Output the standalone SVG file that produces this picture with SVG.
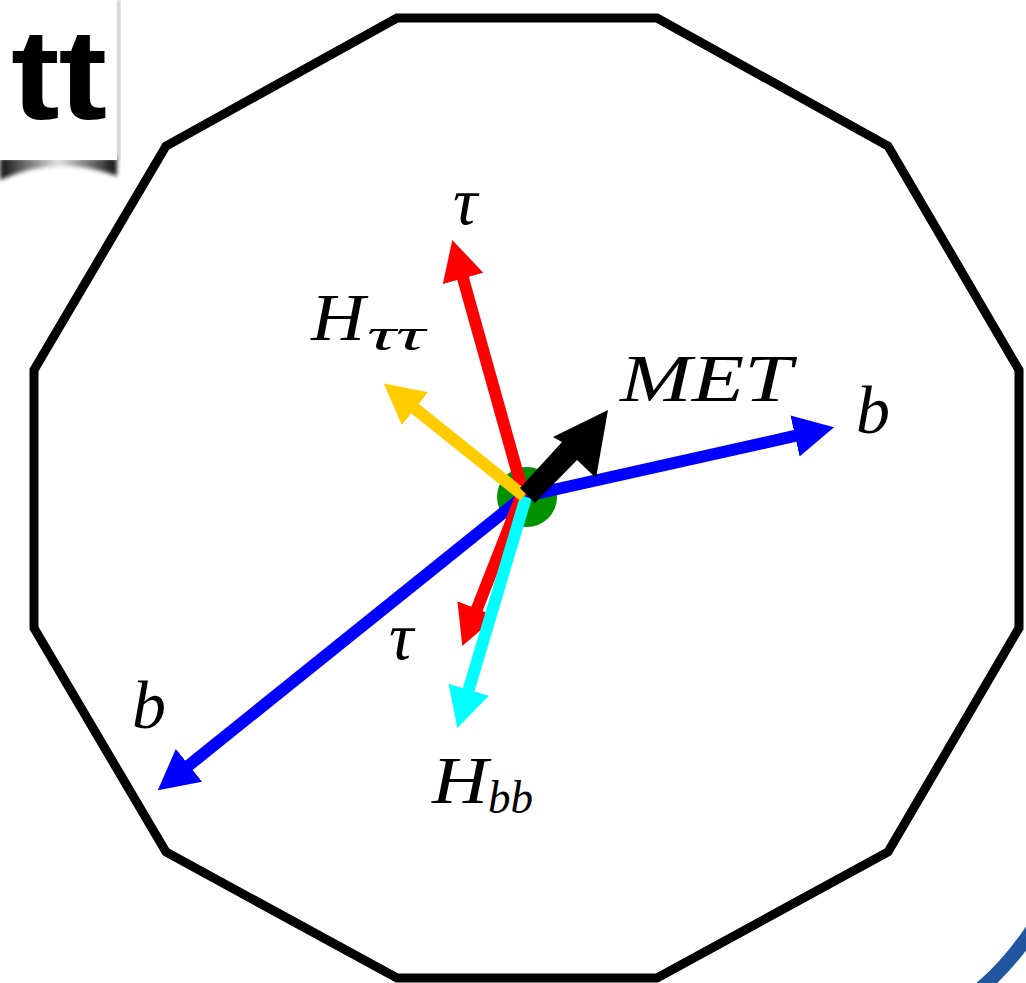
<svg xmlns="http://www.w3.org/2000/svg" width="1026" height="983" viewBox="0 0 1026 983">
<style>
.lbl{font-family:"Liberation Serif","DejaVu Serif",serif;font-style:italic;fill:#000}
.big{font-size:68px}
.sub{font-size:47px}
.shaft{fill:none;stroke-width:12;stroke-linecap:butt}
</style>
<defs>
<marker id="hRed" viewBox="0 -22 42 44" refX="1" refY="0" markerWidth="42" markerHeight="44" markerUnits="userSpaceOnUse" orient="auto"><path d="M0,-21 L40,0 L0,21 Z" fill="#ff0000"/></marker>
<marker id="hYel" viewBox="0 -22 42 44" refX="1" refY="0" markerWidth="42" markerHeight="44" markerUnits="userSpaceOnUse" orient="auto"><path d="M0,-21 L40,0 L0,21 Z" fill="#ffcc00"/></marker>
<marker id="hBlue" viewBox="0 -22 42 44" refX="1" refY="0" markerWidth="42" markerHeight="44" markerUnits="userSpaceOnUse" orient="auto"><path d="M0,-21 L40,0 L0,21 Z" fill="#0000ff"/></marker>
<marker id="hCyan" viewBox="0 -22 42 44" refX="1" refY="0" markerWidth="42" markerHeight="44" markerUnits="userSpaceOnUse" orient="auto"><path d="M0,-21 L40,0 L0,21 Z" fill="#00ffff"/></marker>
<linearGradient id="shGrad" x1="0" y1="0" x2="1" y2="0">
<stop offset="0" stop-color="#111"/>
<stop offset="0.5" stop-color="#e0e0e0"/>
<stop offset="1" stop-color="#111"/>
</linearGradient>
<filter id="blur" x="-20%" y="-50%" width="140%" height="200%"><feGaussianBlur stdDeviation="2.2"/></filter>
</defs>
<rect width="1026" height="983" fill="#fff"/>

<g id="badge">
<rect x="116" y="0" width="4" height="160" fill="#bbb" filter="url(#blur)"/>
<path d="M0,158 L117,158 L117,176 Q58,154 0,180 Z" fill="url(#shGrad)" filter="url(#blur)"/>
<rect x="0" y="0" width="117" height="160" fill="#fff"/>
<text transform="translate(11,119) scale(1.14,1)" x="0" y="0" font-family="Liberation Sans, Arial, sans-serif" font-weight="bold" font-size="128" letter-spacing="-1">tt</text>
</g>

<g id="detector">
<polygon points="397,18 657,18 888,146 1019,370 1019,628 888,852 657,978 397,978 166,852 34,628 34,370 166,146" fill="none" stroke="#000" stroke-width="9" stroke-linejoin="miter"/>
</g>

<g id="beam-deco">
<path d="M979,990 Q1008,966 1032,930" fill="none" stroke="#2356a0" stroke-width="14"/>
</g>

<g id="vertex">
<circle cx="527" cy="497" r="30" fill="#009100"/>
</g>

<g id="connectors">
<line class="shaft" x1="526" y1="496" x2="796" y2="435.7" stroke="#0000ff" marker-end="url(#hBlue)"/>
<line class="shaft" x1="524" y1="496" x2="188.2" y2="765.9" stroke="#0000ff" marker-end="url(#hBlue)"/>
<line class="shaft" x1="524" y1="496" x2="462.8" y2="277.5" stroke="#ff0000" marker-end="url(#hRed)"/>
<line class="shaft" x1="521" y1="497" x2="476.6" y2="609.8" stroke="#ff0000" marker-end="url(#hRed)"/>
<line class="shaft" x1="526" y1="497" x2="468.4" y2="690.7" stroke="#00ffff" marker-end="url(#hCyan)"/>
<line class="shaft" x1="524" y1="496" x2="414.2" y2="408" stroke="#ffcc00" marker-end="url(#hYel)"/>
<polygon points="520,488 562,442 553,437 608,410 596,478 577,460 535,503" fill="#000"/>
</g>

<g id="labels">
<text class="lbl big" x="453" y="224">τ</text>
<text class="lbl big" x="311" y="340"><tspan textLength="54" lengthAdjust="spacingAndGlyphs">H</tspan></text>
<text class="lbl sub" x="367" y="350" textLength="58" lengthAdjust="spacingAndGlyphs">ττ</text>
<text class="lbl big" x="620" y="401" textLength="172" lengthAdjust="spacingAndGlyphs">MET</text>
<text class="lbl big" x="856" y="433">b</text>
<text class="lbl big" x="132" y="728">b</text>
<text class="lbl big" x="389" y="659">τ</text>
<text class="lbl big" x="432" y="803" textLength="56" lengthAdjust="spacingAndGlyphs">H</text>
<text class="lbl sub" x="488" y="813" textLength="45" lengthAdjust="spacingAndGlyphs">bb</text>
</g>
</svg>
